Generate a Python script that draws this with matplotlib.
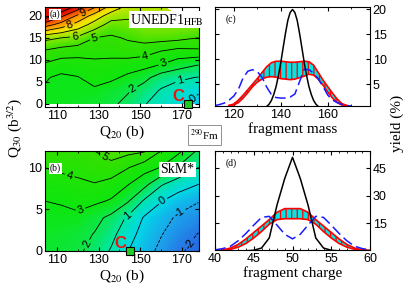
import numpy as np
import matplotlib
matplotlib.use("Agg")
import matplotlib.pyplot as plt
from matplotlib.colors import LinearSegmentedColormap, Normalize
from matplotlib.ticker import MultipleLocator

plt.rcParams["font.family"] = ["Liberation Sans", "DejaVu Sans"]
plt.rcParams["mathtext.fontset"] = "stix"
plt.rcParams["hatch.linewidth"] = 0.9
SERIF = ["Liberation Serif", "DejaVu Serif"]

# ---- potential energy surfaces (MeV) ----
q20 = [104, 112, 120, 128, 136, 144, 152, 160, 168, 178]
q30_a = [0, 3, 6, 9, 12, 15, 18, 20, 22.5]
e_unedf1 = [
    [2.8, 2.7, 2.6, 2.5, 2.2, 1.7, 1.05, 0.6, 0.2, -0.3],
    [2.9, 2.9, 2.8, 2.8, 2.5, 2.1, 1.5, 0.9, 0.5, 0.1],
    [3.1, 2.8, 2.95, 3.45, 3.2, 2.8, 2.3, 1.5, 1.2, 0.95],
    [3.9, 3.5, 3.6, 3.8, 3.7, 3.5, 3.4, 3.0, 2.5, 2.05],
    [4.9, 4.6, 4.4, 4.3, 4.35, 4.6, 4.4, 4.0, 3.7, 3.8],
    [6.3, 6.0, 5.8, 5.0, 4.85, 5.1, 5.4, 5.4, 5.3, 5.0],
    [9.5, 8.6, 7.6, 6.6, 5.6, 5.7, 5.95, 6.05, 6.0, 6.0],
    [11.8, 10.2, 8.8, 7.6, 6.5, 6.2, 6.4, 6.5, 6.5, np.nan],
    [14.0, 12.5, 11.0, 9.5, 8.0, 7.0, 6.8, 6.8, np.nan, np.nan],
]
q30_b = [0, 2, 4, 6, 8, 10, 12]
e_skm = [
    [2.5, 2.4, 2.2, 1.6, 0.9, 0.03, -0.6, -1.25, -1.85, -2.3],
    [2.6, 2.5, 2.35, 1.95, 1.3, 0.35, -0.35, -0.95, -1.5, -2.05],
    [2.85, 2.85, 2.8, 2.3, 1.75, 0.85, -0.1, -0.6, -1.15, -1.5],
    [3.0, 3.05, 3.3, 3.2, 2.9, 2.1, 0.85, 0.05, -0.5, -0.95],
    [3.55, 3.6, 3.8, 3.95, 3.6, 3.05, 2.3, 1.1, 0.5, 0.0],
    [4.0, 4.2, 4.3, 4.5, 4.7, 4.05, 3.4, 2.95, 1.9, 0.98],
    [4.8, 4.8, 4.8, 5.0, 5.4, 5.3, 5.1, 4.0, 3.3, 1.8],
]
c_point_a = (173, 0)
c_point_b = (145, 0)

# ---- fragment yields (%) ----
mass = [112, 114, 116, 118, 120, 122, 124, 126, 128, 130, 132, 134, 136, 138, 140,
        142, 144, 146, 148, 150, 152, 154, 156, 158, 160, 162, 164, 166, 168, 170]
mass_blue = [0.7, 0.9, 1.2, 1.8, 2.6, 4.0, 6.3, 7.6, 7.9, 7.5, 6.4, 4.4, 2.9, 2.3, 2.2,
             2.2, 2.4, 3.0, 5.5, 8.0, 7.9, 7.2, 6.0, 4.5, 2.8, 1.8, 1.3, 0.9, 0.7, 0.6]
mass_hi = [np.nan, np.nan, np.nan, 0.7, 1.0, 1.8, 2.8, 3.9, 5.0, 6.1, 7.3, 8.5, 9.3, 9.6, 9.6,
           9.5, 9.4, 9.4, 9.5, 9.6, 9.5, 8.8, 7.3, 5.8, 4.5, 3.2, 2.0, 1.1, 0.7, np.nan]
mass_lo = [np.nan, np.nan, np.nan, 0.7, 0.8, 1.3, 2.2, 3.3, 4.5, 5.4, 6.0, 6.4, 6.5, 6.4, 6.1,
           6.0, 5.9, 6.0, 6.3, 6.6, 7.0, 6.8, 6.0, 4.8, 3.4, 2.2, 1.3, 0.8, 0.7, np.nan]
mass_k = [132, 134, 135, 136, 137, 138, 139, 140, 141, 142, 143, 144, 145,
          146, 147, 148, 149, 150, 151, 152, 153, 154, 155, 156, 158]
mass_black = [0.12, 0.5, 0.95, 1.7, 2.9, 4.5, 6.7, 9.3, 12.3, 15.2, 17.8, 19.4, 20.0,
              19.4, 17.8, 15.2, 12.3, 9.3, 6.7, 4.5, 2.9, 1.7, 0.95, 0.5, 0.12]

charge = list(range(40, 61))
charge_blue = [0.5, 1.2, 2.5, 5.5, 9.5, 14.0, 18.2, 18.8, 14.0, 9.0, 6.5,
               9.0, 14.0, 18.8, 18.2, 14.0, 9.5, 5.5, 2.5, 1.2, 0.5]
charge_black = [0.0, 0.0, 0.0, 0.0, 0.0, 0.3, 1.5, 7.0, 25.0, 39.5, 51.0,
                39.5, 25.0, 7.0, 1.5, 0.3, 0.0, 0.0, 0.0, 0.0, 0.0]
charge_hi = [0.2, 0.5, 1.5, 3.5, 6.5, 10.0, 13.5, 17.0, 21.0, 23.0, 23.0,
             23.0, 21.0, 17.0, 13.5, 10.0, 6.5, 3.5, 1.5, 0.5, 0.2]
charge_lo = [0.1, 0.3, 0.8, 2.0, 4.0, 7.0, 10.5, 14.5, 17.0, 17.5, 17.5,
             17.5, 17.0, 14.5, 10.5, 7.0, 4.0, 2.0, 0.8, 0.3, 0.1]

cmap = LinearSegmentedColormap.from_list("pes", [
    (0.000, (0.10, 0.35, 0.85)), (0.071, (0.15, 0.45, 0.90)), (0.143, (0.10, 0.65, 0.92)),
    (0.214, (0.00, 0.85, 0.90)), (0.286, (0.00, 0.90, 0.65)), (0.357, (0.05, 0.90, 0.30)),
    (0.429, (0.05, 0.90, 0.05)), (0.571, (0.20, 0.88, 0.00)), (0.643, (0.50, 0.90, 0.00)),
    (0.750, (0.95, 0.90, 0.00)), (0.857, (1.00, 0.55, 0.00)), (0.964, (0.90, 0.10, 0.00)),
    (1.000, (0.85, 0.05, 0.00))])
norm = Normalize(-3, 11)

fig = plt.figure(figsize=(4.15, 3.02), dpi=100)
axa = fig.add_axes([0.1084, 0.6457, 0.3711, 0.3311])
axb = fig.add_axes([0.1084, 0.1689, 0.3711, 0.3311])
axc = fig.add_axes([0.5181, 0.6490, 0.3735, 0.3278])
axd = fig.add_axes([0.5181, 0.1720, 0.3735, 0.3290])

def pes(ax, y, z, ylim, lab_pos, cpt, cxy):
    Z = np.ma.masked_invalid(np.array(z))
    ax.contourf(q20, y, Z, levels=np.linspace(-3, 11, 141), cmap=cmap, norm=norm, extend="both")
    cs = ax.contour(q20, y, Z, levels=np.arange(-2, 12), colors="k", linewidths=0.6)
    ax.clabel(cs, fmt="%d", fontsize=8, inline=True, inline_spacing=2, manual=lab_pos)
    ax.plot(*cpt, "s", ms=5.5, mfc="#22cc22", mec="k", mew=0.8, clip_on=False, zorder=5)
    ax.text(*cxy, "C", color="#ee1111", fontsize=12, fontweight="bold", ha="center", va="center")
    ax.set_xlim(104.2, 178.2); ax.set_ylim(*ylim)
    ax.xaxis.set_minor_locator(MultipleLocator(10))
    ax.set_xticks([110, 130, 150, 170])
    ax.yaxis.set_major_locator(MultipleLocator(5))
    ax.set_xlabel("Q$_{20}$ (b)", family=SERIF, fontsize=11, labelpad=1)

pes(axa, q30_a, e_unedf1, (-0.7, 22),
    [(175, 1.4), (169, 5.5), (146.5, 3.3), (161, 9.2), (152.6, 10.4), (128, 15.1),
     (118.6, 15.5), (116.2, 17.7), (122.5, 20.7)], c_point_a, (168.5, 1.6))
pes(axb, q30_b, e_skm, (0, 12),
    [(132, 11), (116, 9), (120.7, 5.3), (124.5, 0.8), (143, 4.5), (160.8, 6),
     (169, 4.5), (174.7, 0.7)], c_point_b, (140.3, 0.9))
axa.text(0.03, 0.9, "(a)", transform=axa.transAxes, family=SERIF, fontsize=7,
         bbox=dict(fc="white", ec="none", pad=0.8))
axa.text(0.55, 0.83, "UNEDF1$_{\\rm HFB}$", transform=axa.transAxes, family=SERIF, fontsize=10,
         math_fontfamily="stix", bbox=dict(fc="white", ec="none", pad=0.5))
axb.text(0.03, 0.8, "(b)", transform=axb.transAxes, family=SERIF, fontsize=7,
         bbox=dict(fc="white", ec="none", pad=0.8))
axb.text(0.75, 0.78, "SkM*", transform=axb.transAxes, family=SERIF, fontsize=10,
         bbox=dict(fc="white", ec="none", pad=0.8))

def yields(ax, x, blue, hi, lo, xk, black):
    ax.fill_between(x, lo, hi, facecolor="#00e5e5", edgecolor="red", hatch="|||", lw=0)
    ax.plot(x, hi, color="red", lw=1.2)
    ax.plot(x, lo, color="red", lw=1.2)
    ax.plot(x, blue, color="#1a1aff", lw=1.1, ls=(0, (7, 3)))
    ax.plot(xk, black, color="k", lw=1.1)
    ax.yaxis.tick_right()

yields(axc, mass, mass_blue, mass_hi, mass_lo, mass_k, mass_black)
axc.set_xlim(112, 178); axc.set_ylim(0.6, 20.5)
axc.set_xticks([120, 140, 160]); axc.xaxis.set_minor_locator(MultipleLocator(10))
axc.set_yticks([5, 10, 15, 20])
axc.set_xlabel("fragment mass", family=SERIF, fontsize=11, labelpad=1)
axc.text(0.07, 0.85, "(c)", transform=axc.transAxes, family=SERIF, fontsize=7)

yields(axd, charge, charge_blue, charge_hi, charge_lo, charge, charge_black)
axd.set_xlim(40, 60); axd.set_ylim(0.4, 54.6)
axd.set_xticks([40, 45, 50, 55, 60]); axd.xaxis.set_minor_locator(MultipleLocator(1))
axd.set_yticks([15, 30, 45])
axd.set_xlabel("fragment charge", family=SERIF, fontsize=11, labelpad=1)
axd.text(0.07, 0.85, "(d)", transform=axd.transAxes, family=SERIF, fontsize=7)

for ax in (axa, axb, axc, axd):
    ax.tick_params(which="both", direction="in", top=True, bottom=True, left=True, right=True,
                   labelsize=9, pad=2)
    ax.tick_params(which="major", length=3)
    ax.tick_params(which="minor", length=1.5)
axc.tick_params(labelleft=False, labelright=True)
axd.tick_params(labelleft=False, labelright=True)

fig.text(0.036, 0.576, "Q$_{30}$ (b$^{3/2}$)", rotation=90, ha="center", va="center",
         family=SERIF, fontsize=11)
fig.text(0.958, 0.59, "yield (%)", rotation=90, ha="center", va="center",
         family=SERIF, fontsize=11)
fig.text(0.492, 0.553, "$^{290}$Fm", ha="center", va="center", family=SERIF, fontsize=8,
         bbox=dict(fc="white", ec="0.5", lw=0.6, pad=1.5))

fig.savefig("out.png", dpi=100)
